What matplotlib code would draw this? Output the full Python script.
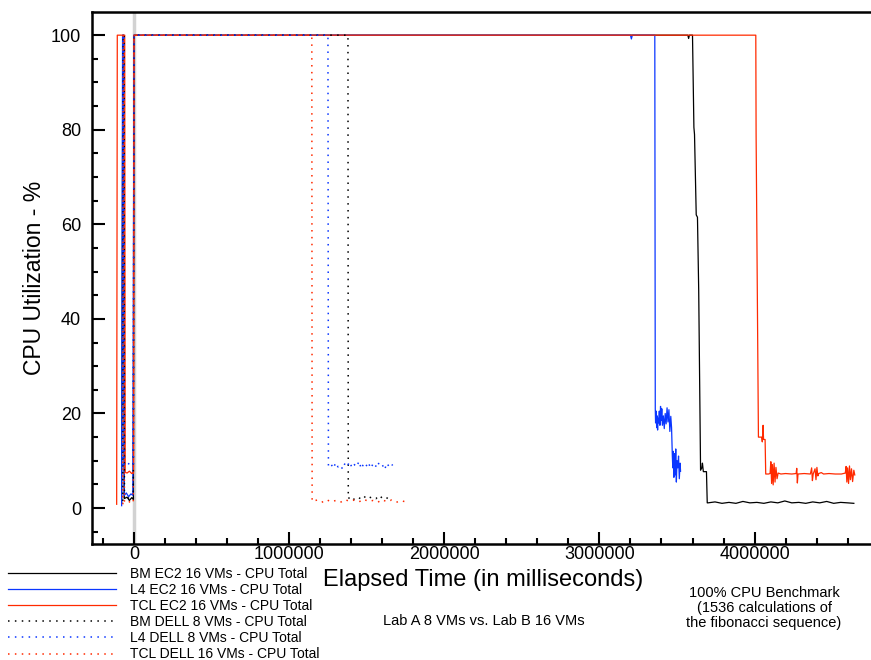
import matplotlib
matplotlib.use('Agg')
import matplotlib.pyplot as plt
from matplotlib.ticker import MultipleLocator

plt.rcParams['font.family'] = 'Liberation Sans'

# CPU total per run, time in ms (EC2 runs with 16 VMs, DELL runs with 8/16 VMs)
bm_ec2_t = [-80000, -72000, -66000, -63000, -45000, -30000, -15000, -4000, 0,
            3570000, 3575000, 3580000, 3600000, 3609000, 3613000, 3624000, 3632000,
            3640000, 3652000, 3660000, 3664000, 3670000, 3690000, 3695000,
            3700000, 3745000, 3790000, 3835000, 3880000, 3925000, 3970000, 4015000,
            4060000, 4105000, 4150000, 4195000, 4240000, 4285000, 4330000, 4375000,
            4420000, 4465000, 4510000, 4555000, 4600000, 4640000]
bm_ec2_cpu = [1.0, 100, 100, 2.0, 2.3, 1.6, 2.2, 1.8, 100,
              100, 99.3, 100, 100, 80.5, 79, 62, 61.5,
              46, 8, 8.5, 9.5, 7.7, 7.7, 1.1,
              1.1, 1.3, 1.0, 1.2, 1.0, 1.4, 1.1, 1.2,
              1.0, 1.3, 1.1, 1.5, 1.1, 1.2, 1.0, 1.3,
              1.1, 1.4, 1.0, 1.2, 1.1, 1.0]

l4_ec2_t = [-80000, -74000, -68000, -64000, -50000, -35000, -20000, -8000, 0,
            3200000, 3206000, 3212000, 3357000, 3360000, 3362000, 3366000, 3369000,
            3372000, 3375000, 3378000, 3382000, 3386000, 3390000, 3394000, 3398000,
            3402000, 3406000, 3412000, 3418000, 3424000, 3430000, 3436000, 3442000,
            3448000, 3454000, 3460000, 3465000, 3470000, 3473000, 3476000, 3480000,
            3484000, 3488000, 3492000, 3496000, 3500000, 3505000, 3510000, 3515000,
            3520000, 3523000]
l4_ec2_cpu = [0.5, 100, 100, 2.6, 3.2, 2.4, 3.0, 2.7, 100,
              100, 99.2, 100, 100, 21, 18, 20.5, 17,
              19.5, 16.5, 19, 18, 20.5, 17.5, 21.5, 18.5,
              21, 17.5, 19.5, 16.8, 20, 17.8, 21.2, 18.2,
              20.8, 16.2, 19.4, 17, 11, 8.5, 12, 6.5,
              11.5, 7, 12.5, 5.5, 10, 8.5, 11, 6.2,
              9.5, 7.8]

tcl_ec2_t = [-112000, -108000, -60000, -57000, -45000, -30000, -15000, -3000, 0,
             4008000, 4010000, 4025000, 4046000, 4050000, 4055000, 4058000, 4068000,
             4072000, 4090000, 4100000, 4105000, 4110000, 4115000, 4120000, 4126000,
             4132000, 4138000, 4145000, 4152000, 4170000, 4200000, 4240000, 4268000,
             4272000, 4276000, 4280000, 4320000, 4360000, 4368000, 4373000, 4378000,
             4390000, 4396000, 4402000, 4408000, 4414000, 4430000, 4445000, 4480000,
             4520000, 4560000, 4585000, 4590000, 4595000, 4600000, 4606000, 4612000,
             4618000, 4625000, 4632000, 4640000, 4646000]
tcl_ec2_cpu = [0.8, 100, 100, 7.6, 7.4, 7.8, 7.3, 7.6, 100,
               100, 79, 15, 15, 14, 17.5, 14.5, 14.5,
               7.2, 7.2, 7.3, 9.8, 5.2, 9.2, 4.9, 9.5,
               5.5, 8.6, 6.2, 7.4, 7.2, 7.3, 7.2, 7.3,
               8.4, 5.3, 7.2, 7.3, 7.2, 8.5, 5.8, 7.2,
               8.3, 6.0, 8.6, 6.8, 7.3, 7.5, 7.2, 7.3,
               7.2, 7.2, 7.4, 8.8, 5.5, 8.5, 5.2, 8.9,
               6.0, 8.3, 5.6, 8.0, 7.0]

bm_dell_t = [-72000, -70000, -64000, -62000, -40000, -20000, -5000, 0,
             1379000, 1381000, 1400000, 1420000, 1440000, 1460000, 1480000, 1500000,
             1520000, 1540000, 1560000, 1580000, 1600000, 1620000, 1640000, 1655000]
bm_dell_cpu = [1.5, 100, 100, 1.8, 2.2, 1.6, 2.0, 100,
               100, 2.0, 2.5, 1.8, 2.3, 2.0, 2.6, 1.9,
               2.2, 2.4, 2.0, 2.7, 2.1, 2.4, 1.9, 2.2]

l4_dell_t = [-74000, -71000, -65000, -62000, -45000, -30000, -15000, -4000, 0,
             1250000, 1253000, 1270000, 1285000, 1300000, 1315000, 1330000, 1345000,
             1360000, 1375000, 1390000, 1405000, 1420000, 1435000, 1450000, 1465000,
             1480000, 1495000, 1510000, 1525000, 1540000, 1555000, 1570000, 1585000,
             1600000, 1615000, 1630000, 1645000, 1660000, 1667000]
l4_dell_cpu = [9.0, 100, 100, 9.2, 8.8, 9.6, 9.1, 9.4, 100,
               100, 8.8, 9.3, 8.4, 9.6, 8.7, 9.1, 8.2,
               9.5, 8.9, 9.8, 8.5, 9.2, 8.7, 9.9, 8.3,
               9.4, 8.8, 9.7, 8.4, 9.3, 8.6, 9.8, 8.9,
               9.2, 8.1, 9.5, 8.7, 9.3, 9.0]

tcl_dell_t = [-72000, -70000, -64000, -62000, -40000, -20000, -5000, 0,
              1146000, 1148000, 1180000, 1210000, 1240000, 1270000, 1300000, 1330000,
              1360000, 1390000, 1420000, 1450000, 1480000, 1510000, 1540000, 1570000,
              1600000, 1630000, 1660000, 1690000, 1720000, 1750000, 1769000]
tcl_dell_cpu = [0.8, 100, 100, 1.3, 1.0, 1.6, 1.2, 100,
                100, 1.4, 1.7, 1.2, 1.8, 1.3, 1.6, 1.2,
                1.8, 1.4, 1.7, 1.3, 1.9, 1.4, 1.6, 1.2,
                1.8, 1.3, 1.7, 1.2, 1.6, 1.3, 1.5]

black = 'black'
blue = '#0a36ff'
red = '#ff2a00'
dots = (0, (1, 3.5))

fig = plt.figure(figsize=(8.71, 6.6), dpi=100)
ax = fig.add_axes([92 / 871, 1 - 544 / 660, 782 / 871, 532 / 660])

ax.axvline(0, color='#d2d2d2', lw=2.5, zorder=0)

ax.plot(bm_ec2_t, bm_ec2_cpu, color=black, lw=0.9, label='BM EC2 16 VMs - CPU Total')
ax.plot(l4_ec2_t, l4_ec2_cpu, color=blue, lw=0.9, label='L4 EC2 16 VMs - CPU Total')
ax.plot(tcl_ec2_t, tcl_ec2_cpu, color=red, lw=0.9, label='TCL EC2 16 VMs - CPU Total')
ax.plot(bm_dell_t, bm_dell_cpu, color=black, lw=1.1, ls=dots, label='BM DELL 8 VMs - CPU Total')
ax.plot(l4_dell_t, l4_dell_cpu, color=blue, lw=1.1, ls=dots, label='L4 DELL 8 VMs - CPU Total')
ax.plot(tcl_dell_t, tcl_dell_cpu, color=red, lw=1.1, ls=dots, label='TCL DELL 16 VMs - CPU Total')

ax.set_xlim(-271000, 4770000)
ax.set_ylim(-7.6, 104.9)
ax.xaxis.set_major_locator(MultipleLocator(1000000))
ax.xaxis.set_minor_locator(MultipleLocator(200000))
ax.yaxis.set_major_locator(MultipleLocator(20))
ax.yaxis.set_minor_locator(MultipleLocator(5))
ax.ticklabel_format(axis='x', style='plain', useOffset=False)

ax.tick_params(which='both', direction='in', top=False, right=False, width=1.5, labelsize=13)
ax.tick_params(which='major', length=9, pad=8)
ax.tick_params(which='minor', length=4.5)
ax.tick_params(axis='x', which='major', pad=1.5)
for s in ax.spines.values():
    s.set_linewidth(1.8)

ax.set_ylabel('CPU Utilization - %', fontsize=16.5, labelpad=3)
ax.set_xlabel('Elapsed Time (in milliseconds)', fontsize=17, labelpad=4.5)

fig.legend(loc='upper left', bbox_to_anchor=(8 / 871, 1 - 567 / 660), frameon=False,
           fontsize=10, handlelength=7.8, handletextpad=0.95, labelspacing=0.15,
           borderpad=0, borderaxespad=0)

fig.text(484 / 871, 1 - 621 / 660, 'Lab A 8 VMs vs. Lab B 16 VMs', fontsize=10.5,
         ha='center', va='center')
fig.text(764 / 871, 1 - 608 / 660,
         '100% CPU Benchmark\n(1536 calculations of\nthe fibonacci sequence)',
         fontsize=10.5, ha='center', va='center', linespacing=1.05)

fig.savefig('out.png', dpi=100)
